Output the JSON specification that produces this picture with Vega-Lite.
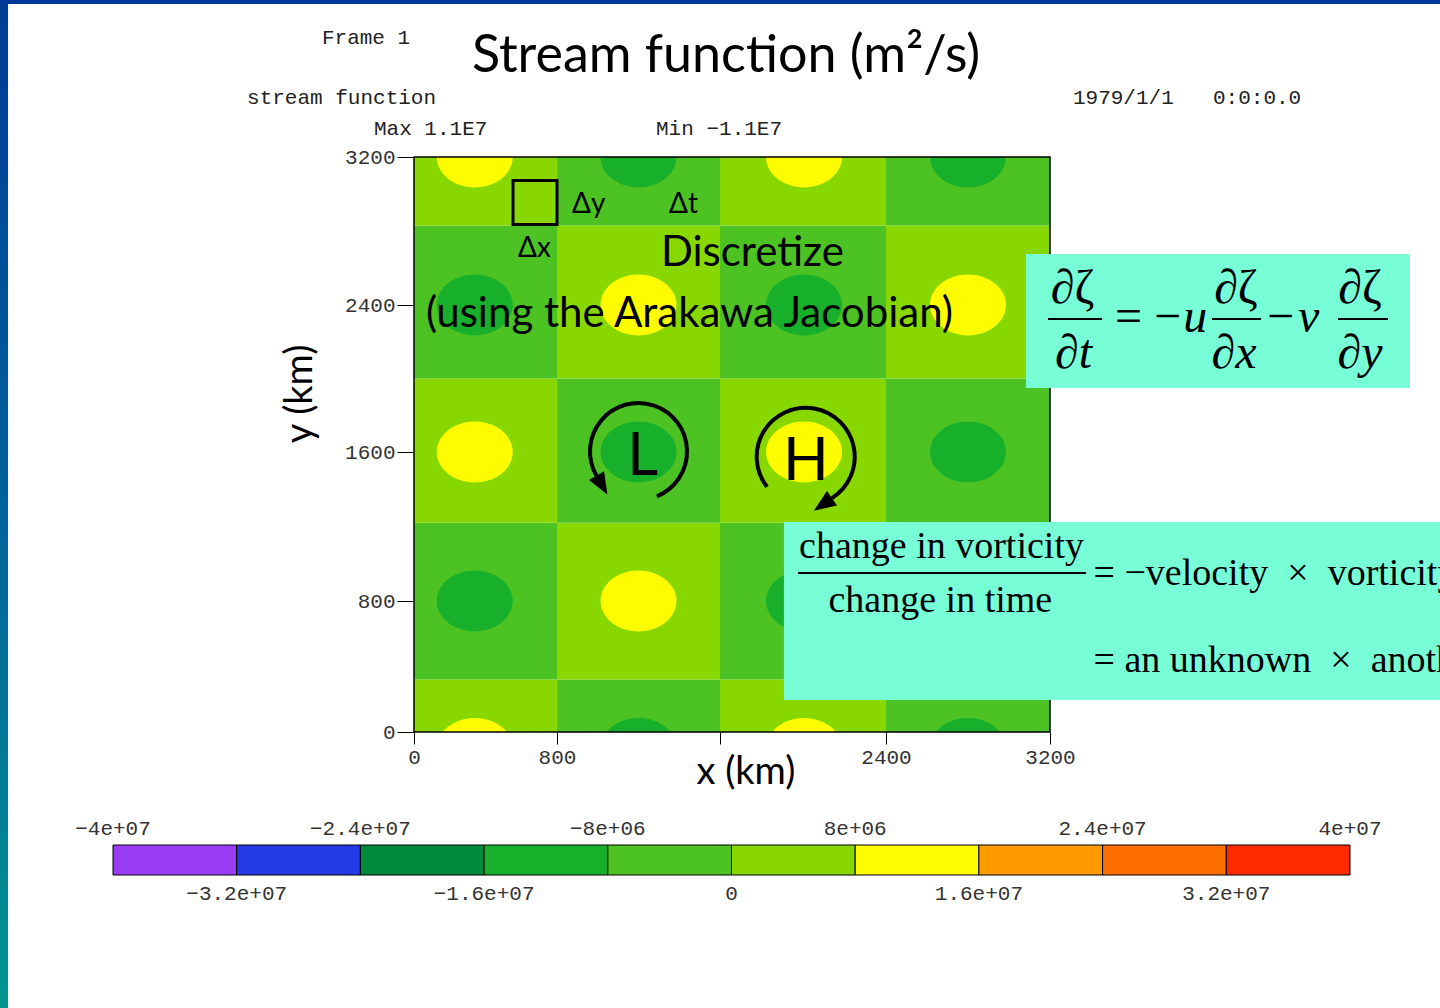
{
  "$schema": "https://vega.github.io/schema/vega-lite/v6.json",
  "width": 636,
  "height": 575,
  "autosize": {"type": "none"},
  "padding": {"left": 414, "top": 157, "right": 390, "bottom": 276},
  "background": "white",
  "config": {"view": {"stroke": null}},
  "datasets": {
    "blocks": [
      {"x0": 0, "x1": 800, "y0": 0, "y1": 320, "psi": 4000000},
      {"x0": 0, "x1": 800, "y0": 320, "y1": 1220, "psi": -4000000},
      {"x0": 0, "x1": 800, "y0": 1220, "y1": 2000, "psi": 4000000},
      {"x0": 0, "x1": 800, "y0": 2000, "y1": 2830, "psi": -4000000},
      {"x0": 0, "x1": 800, "y0": 2830, "y1": 3200, "psi": 4000000},
      {"x0": 800, "x1": 1600, "y0": 0, "y1": 320, "psi": -4000000},
      {"x0": 800, "x1": 1600, "y0": 320, "y1": 1220, "psi": 4000000},
      {"x0": 800, "x1": 1600, "y0": 1220, "y1": 2000, "psi": -4000000},
      {"x0": 800, "x1": 1600, "y0": 2000, "y1": 2830, "psi": 4000000},
      {"x0": 800, "x1": 1600, "y0": 2830, "y1": 3200, "psi": -4000000},
      {"x0": 1600, "x1": 2400, "y0": 0, "y1": 320, "psi": 4000000},
      {"x0": 1600, "x1": 2400, "y0": 320, "y1": 1220, "psi": -4000000},
      {"x0": 1600, "x1": 2400, "y0": 1220, "y1": 2000, "psi": 4000000},
      {"x0": 1600, "x1": 2400, "y0": 2000, "y1": 2830, "psi": -4000000},
      {"x0": 1600, "x1": 2400, "y0": 2830, "y1": 3200, "psi": 4000000},
      {"x0": 2400, "x1": 3200, "y0": 0, "y1": 320, "psi": -4000000},
      {"x0": 2400, "x1": 3200, "y0": 320, "y1": 1220, "psi": 4000000},
      {"x0": 2400, "x1": 3200, "y0": 1220, "y1": 2000, "psi": -4000000},
      {"x0": 2400, "x1": 3200, "y0": 2000, "y1": 2830, "psi": 4000000},
      {"x0": 2400, "x1": 3200, "y0": 2830, "y1": 3200, "psi": -4000000}
    ],
    "spots": [
      {"x": 340, "y": -100, "psi": 11000000},
      {"x": 340, "y": 800, "psi": -11000000},
      {"x": 340, "y": 1600, "psi": 11000000},
      {"x": 340, "y": 2400, "psi": -11000000},
      {"x": 340, "y": 3200, "psi": 11000000},
      {"x": 1200, "y": -100, "psi": -11000000},
      {"x": 1200, "y": 800, "psi": 11000000},
      {"x": 1200, "y": 1600, "psi": -11000000},
      {"x": 1200, "y": 2400, "psi": 11000000},
      {"x": 1200, "y": 3200, "psi": -11000000},
      {"x": 2005, "y": -100, "psi": 11000000},
      {"x": 2005, "y": 800, "psi": -11000000},
      {"x": 2005, "y": 1600, "psi": 11000000},
      {"x": 2005, "y": 2400, "psi": -11000000},
      {"x": 2005, "y": 3200, "psi": 11000000},
      {"x": 2800, "y": -100, "psi": -11000000},
      {"x": 2800, "y": 800, "psi": 11000000},
      {"x": 2800, "y": 1600, "psi": -11000000},
      {"x": 2800, "y": 2400, "psi": 11000000},
      {"x": 2800, "y": 3200, "psi": -11000000}
    ],
    "legend": [
      {"lo": -40000000, "hi": -32000000, "psi": -36000000},
      {"lo": -32000000, "hi": -24000000, "psi": -28000000},
      {"lo": -24000000, "hi": -16000000, "psi": -20000000},
      {"lo": -16000000, "hi": -8000000, "psi": -12000000},
      {"lo": -8000000, "hi": 0, "psi": -4000000},
      {"lo": 0, "hi": 8000000, "psi": 4000000},
      {"lo": 8000000, "hi": 16000000, "psi": 12000000},
      {"lo": 16000000, "hi": 24000000, "psi": 20000000},
      {"lo": 24000000, "hi": 32000000, "psi": 28000000},
      {"lo": 32000000, "hi": 40000000, "psi": 36000000}
    ],
    "legendLabels": [
      {"v": -40000000, "label": "−4e+07", "side": "top"},
      {"v": -32000000, "label": "−3.2e+07", "side": "bottom"},
      {"v": -24000000, "label": "−2.4e+07", "side": "top"},
      {"v": -16000000, "label": "−1.6e+07", "side": "bottom"},
      {"v": -8000000, "label": "−8e+06", "side": "top"},
      {"v": 0, "label": "0", "side": "bottom"},
      {"v": 8000000, "label": "8e+06", "side": "top"},
      {"v": 16000000, "label": "1.6e+07", "side": "bottom"},
      {"v": 24000000, "label": "2.4e+07", "side": "top"},
      {"v": 32000000, "label": "3.2e+07", "side": "bottom"},
      {"v": 40000000, "label": "4e+07", "side": "top"}
    ],
    "decor": [
      {"part": "left", "x0": -2400, "x1": -2271, "y0": -1750, "y1": 4120},
      {"part": "top", "x0": -2400, "x1": 5200, "y0": 4027, "y1": 4120}
    ],
    "boxes": [
      {"x0": 3083, "x1": 4956, "y0": 1948, "y1": 2676},
      {"x0": 1908, "x1": 5400, "y0": 195, "y1": 1224}
    ],
    "lines": [
      {"x0": 3190, "x1": 3454, "y": 2324},
      {"x0": 3990, "x1": 4229, "y": 2324},
      {"x0": 4605, "x1": 4849, "y": 2324},
      {"x0": 1976, "x1": 3376, "y": 950}
    ],
    "shapes": [
      {"name": "square", "x": 677, "y": 2954},
      {"name": "L", "x": 1200, "y": 1603},
      {"name": "H", "x": 2005, "y": 1568}
    ],
    "texts": [
      {"text": "Stream function (m²/s)", "x": 1629, "y": 3659, "style": "title"},
      {"text": "Frame 1", "x": -515, "y": 3843, "style": "grads"},
      {"text": "stream function", "x": -934, "y": 3519, "style": "grads"},
      {"text": "Max 1.1E7", "x": -224, "y": 3351, "style": "grads"},
      {"text": "Min −1.1E7", "x": 1286, "y": 3351, "style": "grads"},
      {"text": "1979/1/1", "x": 3312, "y": 3519, "style": "grads"},
      {"text": "0:0:0.0", "x": 3995, "y": 3519, "style": "grads"},
      {"text": "x (km)", "x": 1725, "y": -250, "style": "axisx"},
      {"text": "y (km)", "x": -632, "y": 1916, "style": "axisy"},
      {"text": "Δy", "x": 874, "y": 2897, "style": "delta"},
      {"text": "Δt", "x": 1350, "y": 2897, "style": "delta"},
      {"text": "Δx", "x": 582, "y": 2659, "style": "delta"},
      {"text": "Discretize", "x": 1310, "y": 2611, "style": "note"},
      {"text": "(using the Arakawa Jacobian)", "x": 67, "y": 2278, "style": "note"},
      {"text": "L", "x": 1220, "y": 1476, "style": "lh"},
      {"text": "H", "x": 2014, "y": 1450, "style": "lh"},
      {"text": "∂ζ", "x": 3310, "y": 2411, "style": "eqnum"},
      {"text": "∂ζ", "x": 4107, "y": 2411, "style": "eqnum"},
      {"text": "∂ζ", "x": 4712, "y": 2411, "style": "eqnum"},
      {"text": "∂t", "x": 3315, "y": 2057, "style": "eqden"},
      {"text": "∂x", "x": 4098, "y": 2057, "style": "eqden"},
      {"text": "∂y", "x": 4712, "y": 2057, "style": "eqden"},
      {"text": "= −", "x": 3517, "y": 2253, "style": "eqop"},
      {"text": "−", "x": 4259, "y": 2253, "style": "eqop"},
      {"text": "u", "x": 3850, "y": 2253, "style": "eqvar"},
      {"text": "v", "x": 4410, "y": 2253, "style": "eqvar"},
      {"text": "change in vorticity", "x": 1981, "y": 1031, "style": "words"},
      {"text": "= −velocity \u00a0×\u00a0 vorticity gradient", "x": 3412, "y": 886, "style": "words"},
      {"text": "= an unknown \u00a0×\u00a0 another unknown", "x": 3412, "y": 366, "style": "words"},
      {"text": "change in time", "x": 2665, "y": 733, "style": "wordsc"}
    ]
  },
  "layer": [
    {
      "data": {"name": "blocks"},
      "mark": {"type": "rect"},
      "encoding": {
        "x": {"field": "x0", "type": "quantitative",
          "scale": {"domain": [0, 800, 1600, 2400, 3200], "range": [0, 143, 306, 472, 636], "nice": false, "zero": false},
          "axis": {"orient": "bottom", "values": [0, 800, 1600, 2400, 3200], "title": null, "grid": false, "domain": false, "ticks": true, "tickSize": 12, "tickColor": "#000", "labelFont": "Liberation Mono", "labelFontSize": 21, "labelColor": "#333", "labelPadding": 2, "labelFlush": false, "labelOverlap": false, "format": "d", "labelExpr": "datum.value == 1600 ? '' : datum.label"}},
        "x2": {"field": "x1"},
        "y": {"field": "y0", "type": "quantitative",
          "scale": {"domain": [0, 800, 1600, 2400, 3200], "range": [575, 444, 295, 148, 0], "nice": false, "zero": false},
          "axis": {"orient": "left", "values": [0, 800, 1600, 2400, 3200], "title": null, "grid": false, "domain": false, "ticks": true, "tickSize": 17, "tickColor": "#000", "labelFont": "Liberation Mono", "labelFontSize": 21, "labelColor": "#333", "labelPadding": 2, "labelOverlap": false, "format": "d"}},
        "y2": {"field": "y1"},
        "color": {"field": "psi", "type": "quantitative", "legend": null,
          "scale": {"type": "threshold", "domain": [-32000000, -24000000, -16000000, -8000000, 0, 8000000, 16000000, 24000000, 32000000], "range": ["#9a3cf6", "#233ae6", "#008a3c", "#18b02a", "#4cc322", "#88d800", "#fffc00", "#ff9a00", "#ff6e00", "#ff2a00"]}}
      }
    },
    {
      "data": {"name": "spots"},
      "mark": {"type": "point", "shape": "M -1 0 A 1 0.8 0 1 0 1 0 A 1 0.8 0 1 0 -1 0 Z", "size": 5776, "filled": true, "opacity": 1, "strokeWidth": 0, "clip": true},
      "encoding": {
        "x": {"field": "x", "type": "quantitative", "axis": null, "scale": {"domain": [0, 800, 1600, 2400, 3200], "range": [0, 143, 306, 472, 636], "nice": false, "zero": false}},
        "y": {"field": "y", "type": "quantitative", "axis": null, "scale": {"domain": [0, 800, 1600, 2400, 3200], "range": [575, 444, 295, 148, 0], "nice": false, "zero": false}},
        "color": {"field": "psi", "type": "quantitative", "legend": null,
          "scale": {"type": "threshold", "domain": [-32000000, -24000000, -16000000, -8000000, 0, 8000000, 16000000, 24000000, 32000000], "range": ["#9a3cf6", "#233ae6", "#008a3c", "#18b02a", "#4cc322", "#88d800", "#fffc00", "#ff9a00", "#ff6e00", "#ff2a00"]}}
      }
    },
    {
      "data": {"values": [{}]},
      "mark": {"type": "rect", "fill": "transparent", "stroke": "#000", "strokeWidth": 1.5},
      "encoding": {
        "x": {"datum": 0, "type": "quantitative", "axis": null, "scale": {"domain": [0, 800, 1600, 2400, 3200], "range": [0, 143, 306, 472, 636], "nice": false, "zero": false}},
        "x2": {"datum": 3200},
        "y": {"datum": 0, "type": "quantitative", "axis": null, "scale": {"domain": [0, 800, 1600, 2400, 3200], "range": [575, 444, 295, 148, 0], "nice": false, "zero": false}},
        "y2": {"datum": 3200}
      }
    },
    {
      "data": {"name": "decor"},
      "transform": [{"filter": "datum.part == 'left'"}],
      "mark": {"type": "rect", "color": {"gradient": "linear", "x1": 0, "y1": 0, "x2": 0, "y2": 1, "stops": [{"offset": 0, "color": "#003a96"}, {"offset": 0.6, "color": "#006a9a"}, {"offset": 1, "color": "#00968f"}]}},
      "encoding": {
        "x": {"field": "x0", "type": "quantitative", "axis": null, "scale": {"domain": [0, 800, 1600, 2400, 3200], "range": [0, 143, 306, 472, 636], "nice": false, "zero": false}},
        "x2": {"field": "x1"},
        "y": {"field": "y0", "type": "quantitative", "axis": null, "scale": {"domain": [0, 800, 1600, 2400, 3200], "range": [575, 444, 295, 148, 0], "nice": false, "zero": false}},
        "y2": {"field": "y1"}
      }
    },
    {
      "data": {"name": "decor"},
      "transform": [{"filter": "datum.part == 'top'"}],
      "mark": {"type": "rect", "color": "#00389a"},
      "encoding": {
        "x": {"field": "x0", "type": "quantitative", "axis": null, "scale": {"domain": [0, 800, 1600, 2400, 3200], "range": [0, 143, 306, 472, 636], "nice": false, "zero": false}},
        "x2": {"field": "x1"},
        "y": {"field": "y0", "type": "quantitative", "axis": null, "scale": {"domain": [0, 800, 1600, 2400, 3200], "range": [575, 444, 295, 148, 0], "nice": false, "zero": false}},
        "y2": {"field": "y1"}
      }
    },
    {
      "data": {"name": "boxes"},
      "mark": {"type": "rect", "color": "#78fed7"},
      "encoding": {
        "x": {"field": "x0", "type": "quantitative", "axis": null, "scale": {"domain": [0, 800, 1600, 2400, 3200], "range": [0, 143, 306, 472, 636], "nice": false, "zero": false}},
        "x2": {"field": "x1"},
        "y": {"field": "y0", "type": "quantitative", "axis": null, "scale": {"domain": [0, 800, 1600, 2400, 3200], "range": [575, 444, 295, 148, 0], "nice": false, "zero": false}},
        "y2": {"field": "y1"}
      }
    },
    {
      "data": {"name": "lines"},
      "mark": {"type": "rule", "color": "#000", "strokeWidth": 2},
      "encoding": {
        "x": {"field": "x0", "type": "quantitative", "axis": null, "scale": {"domain": [0, 800, 1600, 2400, 3200], "range": [0, 143, 306, 472, 636], "nice": false, "zero": false}},
        "x2": {"field": "x1"},
        "y": {"field": "y", "type": "quantitative", "axis": null, "scale": {"domain": [0, 800, 1600, 2400, 3200], "range": [575, 444, 295, 148, 0], "nice": false, "zero": false}}
      }
    },
    {
      "data": {"name": "shapes"},
      "transform": [{"filter": "datum.name == 'square'"}],
      "mark": {"type": "point", "shape": "square", "size": 1936, "filled": false, "opacity": 1, "color": "#000", "strokeWidth": 3},
      "encoding": {
        "x": {"field": "x", "type": "quantitative", "axis": null, "scale": {"domain": [0, 800, 1600, 2400, 3200], "range": [0, 143, 306, 472, 636], "nice": false, "zero": false}},
        "y": {"field": "y", "type": "quantitative", "axis": null, "scale": {"domain": [0, 800, 1600, 2400, 3200], "range": [575, 444, 295, 148, 0], "nice": false, "zero": false}}
      }
    },
    {
      "data": {"name": "shapes"},
      "transform": [{"filter": "datum.name == 'L'"}],
      "mark": {"type": "point", "shape": "M 0.38 0.925 A 1 1 0 1 0 -0.866 0.5", "size": 9409, "filled": false, "opacity": 1, "color": "#000", "strokeWidth": 4},
      "encoding": {
        "x": {"field": "x", "type": "quantitative", "axis": null, "scale": {"domain": [0, 800, 1600, 2400, 3200], "range": [0, 143, 306, 472, 636], "nice": false, "zero": false}},
        "y": {"field": "y", "type": "quantitative", "axis": null, "scale": {"domain": [0, 800, 1600, 2400, 3200], "range": [575, 444, 295, 148, 0], "nice": false, "zero": false}}
      }
    },
    {
      "data": {"name": "shapes"},
      "transform": [{"filter": "datum.name == 'L'"}],
      "mark": {"type": "point", "shape": "M -1.022 0.59 L -0.641 0.89 L -0.71 0.41 Z", "size": 9409, "filled": true, "opacity": 1, "color": "#000", "strokeWidth": 0},
      "encoding": {
        "x": {"field": "x", "type": "quantitative", "axis": null, "scale": {"domain": [0, 800, 1600, 2400, 3200], "range": [0, 143, 306, 472, 636], "nice": false, "zero": false}},
        "y": {"field": "y", "type": "quantitative", "axis": null, "scale": {"domain": [0, 800, 1600, 2400, 3200], "range": [575, 444, 295, 148, 0], "nice": false, "zero": false}}
      }
    },
    {
      "data": {"name": "shapes"},
      "transform": [{"filter": "datum.name == 'H'"}],
      "mark": {"type": "point", "shape": "M -0.755 0.59 A 1 1 0 1 1 0.57 0.82", "size": 9604, "filled": false, "opacity": 1, "color": "#000", "strokeWidth": 4},
      "encoding": {
        "x": {"field": "x", "type": "quantitative", "axis": null, "scale": {"domain": [0, 800, 1600, 2400, 3200], "range": [0, 143, 306, 472, 636], "nice": false, "zero": false}},
        "y": {"field": "y", "type": "quantitative", "axis": null, "scale": {"domain": [0, 800, 1600, 2400, 3200], "range": [575, 444, 295, 148, 0], "nice": false, "zero": false}}
      }
    },
    {
      "data": {"name": "shapes"},
      "transform": [{"filter": "datum.name == 'H'"}],
      "mark": {"type": "point", "shape": "M 0.673 0.968 L 0.201 1.077 L 0.467 0.672 Z", "size": 9604, "filled": true, "opacity": 1, "color": "#000", "strokeWidth": 0},
      "encoding": {
        "x": {"field": "x", "type": "quantitative", "axis": null, "scale": {"domain": [0, 800, 1600, 2400, 3200], "range": [0, 143, 306, 472, 636], "nice": false, "zero": false}},
        "y": {"field": "y", "type": "quantitative", "axis": null, "scale": {"domain": [0, 800, 1600, 2400, 3200], "range": [575, 444, 295, 148, 0], "nice": false, "zero": false}}
      }
    },
    {
      "data": {"name": "texts"},
      "transform": [{"filter": "datum.style == 'title'"}],
      "mark": {"type": "text", "font": "Lato", "fontSize": 52, "color": "#000", "align": "center", "baseline": "alphabetic"},
      "encoding": {
        "x": {"field": "x", "type": "quantitative", "axis": null, "scale": {"domain": [0, 800, 1600, 2400, 3200], "range": [0, 143, 306, 472, 636], "nice": false, "zero": false}},
        "y": {"field": "y", "type": "quantitative", "axis": null, "scale": {"domain": [0, 800, 1600, 2400, 3200], "range": [575, 444, 295, 148, 0], "nice": false, "zero": false}},
        "text": {"field": "text"}
      }
    },
    {
      "data": {"name": "texts"},
      "transform": [{"filter": "datum.style == 'grads'"}],
      "mark": {"type": "text", "font": "Liberation Mono", "fontSize": 21, "color": "#222", "align": "left", "baseline": "middle"},
      "encoding": {
        "x": {"field": "x", "type": "quantitative", "axis": null, "scale": {"domain": [0, 800, 1600, 2400, 3200], "range": [0, 143, 306, 472, 636], "nice": false, "zero": false}},
        "y": {"field": "y", "type": "quantitative", "axis": null, "scale": {"domain": [0, 800, 1600, 2400, 3200], "range": [575, 444, 295, 148, 0], "nice": false, "zero": false}},
        "text": {"field": "text"}
      }
    },
    {
      "data": {"name": "texts"},
      "transform": [{"filter": "datum.style == 'axisx'"}],
      "mark": {"type": "text", "font": "Lato", "fontSize": 38, "color": "#000", "align": "center", "baseline": "middle"},
      "encoding": {
        "x": {"field": "x", "type": "quantitative", "axis": null, "scale": {"domain": [0, 800, 1600, 2400, 3200], "range": [0, 143, 306, 472, 636], "nice": false, "zero": false}},
        "y": {"field": "y", "type": "quantitative", "axis": null, "scale": {"domain": [0, 800, 1600, 2400, 3200], "range": [575, 444, 295, 148, 0], "nice": false, "zero": false}},
        "text": {"field": "text"}
      }
    },
    {
      "data": {"name": "texts"},
      "transform": [{"filter": "datum.style == 'axisy'"}],
      "mark": {"type": "text", "font": "Lato", "fontSize": 38, "color": "#000", "align": "center", "baseline": "middle", "angle": 270},
      "encoding": {
        "x": {"field": "x", "type": "quantitative", "axis": null, "scale": {"domain": [0, 800, 1600, 2400, 3200], "range": [0, 143, 306, 472, 636], "nice": false, "zero": false}},
        "y": {"field": "y", "type": "quantitative", "axis": null, "scale": {"domain": [0, 800, 1600, 2400, 3200], "range": [575, 444, 295, 148, 0], "nice": false, "zero": false}},
        "text": {"field": "text"}
      }
    },
    {
      "data": {"name": "texts"},
      "transform": [{"filter": "datum.style == 'delta'"}],
      "mark": {"type": "text", "font": "Lato", "fontSize": 28, "color": "#000", "align": "left", "baseline": "alphabetic"},
      "encoding": {
        "x": {"field": "x", "type": "quantitative", "axis": null, "scale": {"domain": [0, 800, 1600, 2400, 3200], "range": [0, 143, 306, 472, 636], "nice": false, "zero": false}},
        "y": {"field": "y", "type": "quantitative", "axis": null, "scale": {"domain": [0, 800, 1600, 2400, 3200], "range": [575, 444, 295, 148, 0], "nice": false, "zero": false}},
        "text": {"field": "text"}
      }
    },
    {
      "data": {"name": "texts"},
      "transform": [{"filter": "datum.style == 'note'"}],
      "mark": {"type": "text", "font": "Lato", "fontSize": 42, "color": "#000", "align": "left", "baseline": "alphabetic"},
      "encoding": {
        "x": {"field": "x", "type": "quantitative", "axis": null, "scale": {"domain": [0, 800, 1600, 2400, 3200], "range": [0, 143, 306, 472, 636], "nice": false, "zero": false}},
        "y": {"field": "y", "type": "quantitative", "axis": null, "scale": {"domain": [0, 800, 1600, 2400, 3200], "range": [575, 444, 295, 148, 0], "nice": false, "zero": false}},
        "text": {"field": "text"}
      }
    },
    {
      "data": {"name": "texts"},
      "transform": [{"filter": "datum.style == 'lh'"}],
      "mark": {"type": "text", "font": "Lato", "fontSize": 60, "color": "#000", "align": "center", "baseline": "alphabetic"},
      "encoding": {
        "x": {"field": "x", "type": "quantitative", "axis": null, "scale": {"domain": [0, 800, 1600, 2400, 3200], "range": [0, 143, 306, 472, 636], "nice": false, "zero": false}},
        "y": {"field": "y", "type": "quantitative", "axis": null, "scale": {"domain": [0, 800, 1600, 2400, 3200], "range": [575, 444, 295, 148, 0], "nice": false, "zero": false}},
        "text": {"field": "text"}
      }
    },
    {
      "data": {"name": "texts"},
      "transform": [{"filter": "datum.style == 'eqnum'"}],
      "mark": {"type": "text", "font": "Liberation Serif", "fontSize": 48, "color": "#000", "align": "center", "baseline": "alphabetic"},
      "encoding": {
        "x": {"field": "x", "type": "quantitative", "axis": null, "scale": {"domain": [0, 800, 1600, 2400, 3200], "range": [0, 143, 306, 472, 636], "nice": false, "zero": false}},
        "y": {"field": "y", "type": "quantitative", "axis": null, "scale": {"domain": [0, 800, 1600, 2400, 3200], "range": [575, 444, 295, 148, 0], "nice": false, "zero": false}},
        "text": {"field": "text"}
      }
    },
    {
      "data": {"name": "texts"},
      "transform": [{"filter": "datum.style == 'eqden'"}],
      "mark": {"type": "text", "font": "Liberation Serif", "fontSize": 48, "fontStyle": "italic", "color": "#000", "align": "center", "baseline": "alphabetic"},
      "encoding": {
        "x": {"field": "x", "type": "quantitative", "axis": null, "scale": {"domain": [0, 800, 1600, 2400, 3200], "range": [0, 143, 306, 472, 636], "nice": false, "zero": false}},
        "y": {"field": "y", "type": "quantitative", "axis": null, "scale": {"domain": [0, 800, 1600, 2400, 3200], "range": [575, 444, 295, 148, 0], "nice": false, "zero": false}},
        "text": {"field": "text"}
      }
    },
    {
      "data": {"name": "texts"},
      "transform": [{"filter": "datum.style == 'eqop'"}],
      "mark": {"type": "text", "font": "Liberation Serif", "fontSize": 48, "color": "#000", "align": "left", "baseline": "alphabetic"},
      "encoding": {
        "x": {"field": "x", "type": "quantitative", "axis": null, "scale": {"domain": [0, 800, 1600, 2400, 3200], "range": [0, 143, 306, 472, 636], "nice": false, "zero": false}},
        "y": {"field": "y", "type": "quantitative", "axis": null, "scale": {"domain": [0, 800, 1600, 2400, 3200], "range": [575, 444, 295, 148, 0], "nice": false, "zero": false}},
        "text": {"field": "text"}
      }
    },
    {
      "data": {"name": "texts"},
      "transform": [{"filter": "datum.style == 'eqvar'"}],
      "mark": {"type": "text", "font": "Liberation Serif", "fontSize": 48, "fontStyle": "italic", "color": "#000", "align": "left", "baseline": "alphabetic"},
      "encoding": {
        "x": {"field": "x", "type": "quantitative", "axis": null, "scale": {"domain": [0, 800, 1600, 2400, 3200], "range": [0, 143, 306, 472, 636], "nice": false, "zero": false}},
        "y": {"field": "y", "type": "quantitative", "axis": null, "scale": {"domain": [0, 800, 1600, 2400, 3200], "range": [575, 444, 295, 148, 0], "nice": false, "zero": false}},
        "text": {"field": "text"}
      }
    },
    {
      "data": {"name": "texts"},
      "transform": [{"filter": "datum.style == 'words'"}],
      "mark": {"type": "text", "font": "Liberation Serif", "fontSize": 38, "color": "#000", "align": "left", "baseline": "alphabetic"},
      "encoding": {
        "x": {"field": "x", "type": "quantitative", "axis": null, "scale": {"domain": [0, 800, 1600, 2400, 3200], "range": [0, 143, 306, 472, 636], "nice": false, "zero": false}},
        "y": {"field": "y", "type": "quantitative", "axis": null, "scale": {"domain": [0, 800, 1600, 2400, 3200], "range": [575, 444, 295, 148, 0], "nice": false, "zero": false}},
        "text": {"field": "text"}
      }
    },
    {
      "data": {"name": "texts"},
      "transform": [{"filter": "datum.style == 'wordsc'"}],
      "mark": {"type": "text", "font": "Liberation Serif", "fontSize": 38, "color": "#000", "align": "center", "baseline": "alphabetic"},
      "encoding": {
        "x": {"field": "x", "type": "quantitative", "axis": null, "scale": {"domain": [0, 800, 1600, 2400, 3200], "range": [0, 143, 306, 472, 636], "nice": false, "zero": false}},
        "y": {"field": "y", "type": "quantitative", "axis": null, "scale": {"domain": [0, 800, 1600, 2400, 3200], "range": [575, 444, 295, 148, 0], "nice": false, "zero": false}},
        "text": {"field": "text"}
      }
    },
    {
      "data": {"name": "legend"},
      "mark": {"type": "rect", "stroke": "#000", "strokeWidth": 1},
      "encoding": {
        "x": {"field": "lo", "type": "quantitative", "scale": {"domain": [-40000000, 40000000], "range": [-301, 936], "nice": false, "zero": false}, "axis": null},
        "x2": {"field": "hi"},
        "y": {"datum": 0, "type": "quantitative", "scale": {"domain": [0, 1], "range": [718, 688], "nice": false, "zero": false}, "axis": null},
        "y2": {"datum": 1},
        "color": {"field": "psi", "type": "quantitative", "legend": null,
          "scale": {"type": "threshold", "domain": [-32000000, -24000000, -16000000, -8000000, 0, 8000000, 16000000, 24000000, 32000000], "range": ["#9a3cf6", "#233ae6", "#008a3c", "#18b02a", "#4cc322", "#88d800", "#fffc00", "#ff9a00", "#ff6e00", "#ff2a00"]}}
      }
    },
    {
      "data": {"name": "legendLabels"},
      "transform": [{"filter": "datum.side == 'top'"}],
      "mark": {"type": "text", "font": "Liberation Mono", "fontSize": 21, "color": "#333", "align": "center", "baseline": "alphabetic", "dy": -10},
      "encoding": {
        "x": {"field": "v", "type": "quantitative", "axis": null, "scale": {"domain": [-40000000, 40000000], "range": [-301, 936], "nice": false, "zero": false}},
        "y": {"datum": 1, "type": "quantitative", "axis": null, "scale": {"domain": [0, 1], "range": [718, 688], "nice": false, "zero": false}},
        "text": {"field": "label"}
      }
    },
    {
      "data": {"name": "legendLabels"},
      "transform": [{"filter": "datum.side == 'bottom'"}],
      "mark": {"type": "text", "font": "Liberation Mono", "fontSize": 21, "color": "#333", "align": "center", "baseline": "alphabetic", "dy": 25},
      "encoding": {
        "x": {"field": "v", "type": "quantitative", "axis": null, "scale": {"domain": [-40000000, 40000000], "range": [-301, 936], "nice": false, "zero": false}},
        "y": {"datum": 0, "type": "quantitative", "axis": null, "scale": {"domain": [0, 1], "range": [718, 688], "nice": false, "zero": false}},
        "text": {"field": "label"}
      }
    }
  ],
  "resolve": {"scale": {"x": "independent", "y": "independent"}}
}
